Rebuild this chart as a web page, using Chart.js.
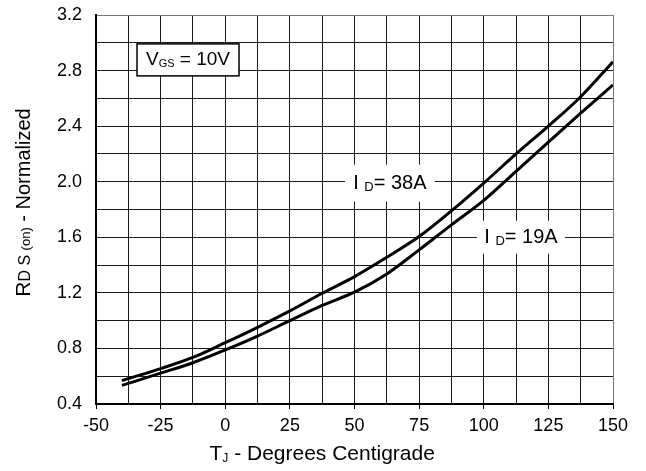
<!DOCTYPE html>
<html>
<head>
<meta charset="utf-8">
<script src="https://cdn.jsdelivr.net/npm/chart.js@4"></script>
<style>
  html, body { margin: 0; padding: 0; background: #fff; }
  #wrap { width: 646px; height: 471px; }
</style>
</head>
<body>
<div id="wrap"><canvas id="chart" width="646" height="471"></canvas></div>
<script>
// junction temperature, deg C
const temps = [-40, -25, -12.5, 0, 12.5, 25, 37.5, 50, 62.5, 75, 87.5, 100, 112.5, 125, 137.5, 150]
// normalized RDS(on)
const rds38A = [0.568, 0.655, 0.735, 0.841, 0.952, 1.07, 1.197, 1.317, 1.456, 1.605, 1.79, 1.99, 2.2, 2.40, 2.612, 2.864]
const rds19A = [0.534, 0.622, 0.697, 0.789, 0.889, 1.0, 1.11, 1.205, 1.336, 1.509, 1.689, 1.865, 2.075, 2.285, 2.493, 2.697]
const seriesNames = ['38A', '19A']

const FONT = 'Liberation Sans, Arial, Helvetica, sans-serif'

function pts(ys) {
    return temps.map((t, i) => ({ x: t, y: ys[i] }))
}

// draws text made of pieces with own size / baseline shift
function drawParts(ctx, parts, cx, cy, align) {
    let w = 0
    parts.forEach(p => {
        ctx.font = p.size + 'px ' + FONT
        w += ctx.measureText(p.t).width
    })
    let x = align === 'left' ? cx : cx - w / 2
    ctx.textBaseline = 'middle'
    ctx.textAlign = 'left'
    parts.forEach(p => {
        ctx.font = p.size + 'px ' + FONT
        ctx.fillText(p.t, x, cy + (p.dy || 0))
        x += ctx.measureText(p.t).width
    })
    return w
}

const annotations = {
    id: 'annotations',
    beforeDatasetsDraw(chart) {
        const ctx = chart.ctx
        const xs = chart.scales.x, ys = chart.scales.y
        ctx.save()
        // current labels on the curves
        const labels = [
            { name: seriesNames[0], x: 63.7, y: 1.99, w: 90, h: 37 },
            { name: seriesNames[1], x: 114.4, y: 1.60, w: 88, h: 33 }
        ]
        labels.forEach(l => {
            const px = xs.getPixelForValue(l.x), py = ys.getPixelForValue(l.y)
            ctx.fillStyle = '#fff'
            ctx.fillRect(px - l.w / 2, py - l.h / 2, l.w, l.h)
            ctx.fillStyle = '#000'
            drawParts(ctx, [
                { t: 'I ', size: 20 },
                { t: 'D', size: 13, dy: 4 },
                { t: '= ' + l.name, size: 20 }
            ], px, py)
        })
        // VGS box
        const bx = xs.getPixelForValue(-14.4), by = ys.getPixelForValue(2.877)
        ctx.fillStyle = '#fff'
        ctx.fillRect(bx - 51, by - 16, 102, 32)
        ctx.strokeStyle = '#000'
        ctx.lineWidth = 1.5
        ctx.strokeRect(bx - 51, by - 16, 102, 32)
        ctx.fillStyle = '#000'
        drawParts(ctx, [
            { t: 'V', size: 19 },
            { t: 'GS', size: 11, dy: 4 },
            { t: ' = 10V', size: 19 }
        ], bx, by)
        ctx.restore()
    },
    afterDraw(chart) {
        const ctx = chart.ctx
        const a = chart.chartArea
        const xs = chart.scales.x
        ctx.save()
        ctx.fillStyle = '#000'
        // x title
        drawParts(ctx, [
            { t: 'T', size: 21 },
            { t: 'J', size: 12, dy: 5 },
            { t: ' - Degrees Centigrade', size: 21 }
        ], xs.getPixelForValue(37.5), 454)
        // y title
        ctx.translate(24, (a.top + a.bottom) / 2 - 7)
        ctx.rotate(-Math.PI / 2)
        drawParts(ctx, [
            { t: 'R', size: 21 },
            { t: 'D S ', size: 16, dy: 2 },
            { t: '(on)', size: 13, dy: 2 },
            { t: ' - Normalized', size: 20 }
        ], 0, 0)
        ctx.restore()
    }
}

new Chart(document.getElementById('chart'), {
    type: 'line',
    data: {
        datasets: [{
            label: seriesNames[0],
            data: pts(rds38A),
            borderColor: '#000',
            borderWidth: 3,
            pointRadius: 0,
            cubicInterpolationMode: 'monotone',
            fill: false
        }, {
            label: seriesNames[1],
            data: pts(rds19A),
            borderColor: '#000',
            borderWidth: 3,
            pointRadius: 0,
            cubicInterpolationMode: 'monotone',
            fill: false
        }]
    },
    options: {
        responsive: false,
        animation: false,
        layout: { padding: { left: 0, top: 15, right: 33, bottom: 0 } },
        plugins: { legend: { display: false }, tooltip: { enabled: false } },
        scales: {
            x: {
                type: 'linear',
                min: -50,
                max: 150,
                afterFit(scale) {
                    scale.height = 67
                    scale.paddingLeft = 0
                    scale.paddingRight = 0
                },
                border: { color: '#000', width: 2 },
                grid: {
                    color: c => c.tick && c.tick.value === 150 ? '#777' : '#1a1a1a',
                    lineWidth: 1,
                    tickLength: 5,
                    tickColor: c => c.tick && c.tick.value % 25 === 0 ? '#000' : 'rgba(0,0,0,0)'
                },
                ticks: {
                    stepSize: 12.5,
                    autoSkip: false,
                    maxRotation: 0,
                    padding: 6,
                    color: '#000',
                    font: { family: FONT, size: 18 },
                    callback: v => v % 25 === 0 ? String(v) : ''
                }
            },
            y: {
                min: 0.4,
                max: 3.2,
                afterFit(scale) {
                    scale.width = 96
                    scale.paddingTop = 0
                    scale.paddingBottom = 0
                },
                border: { color: '#000', width: 2 },
                grid: {
                    color: c => c.tick && Math.round(c.tick.value * 10) === 32 ? '#777' : '#1a1a1a',
                    lineWidth: 1,
                    drawTicks: false
                },
                ticks: {
                    stepSize: 0.2,
                    autoSkip: false,
                    padding: 14,
                    color: '#000',
                    font: { family: FONT, size: 18 },
                    callback: v => Math.round(v * 10) % 4 === 0 ? v.toFixed(1) : ''
                }
            }
        }
    },
    plugins: [annotations]
})
</script>
</body>
</html>
